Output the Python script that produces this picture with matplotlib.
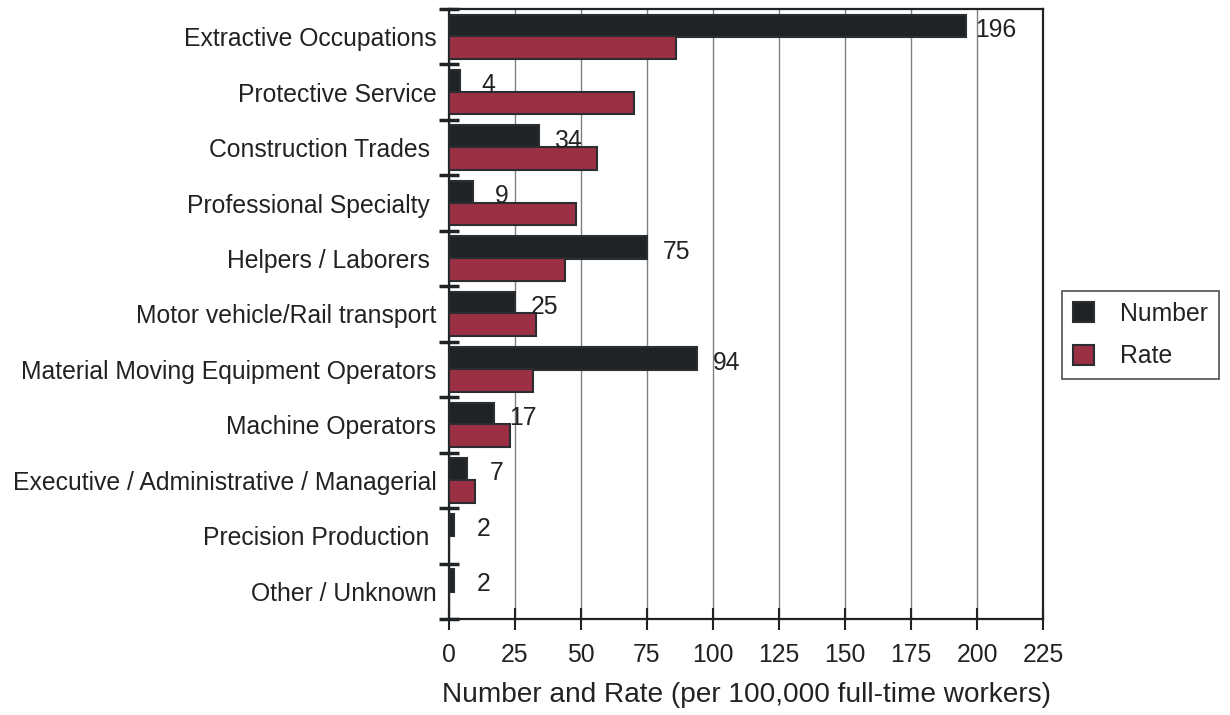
import matplotlib
matplotlib.use("Agg")
import matplotlib.pyplot as plt
import numpy as np

plt.rcParams['font.family'] = ['Liberation Sans', 'DejaVu Sans']

# occupations, top to bottom
categories = [
    "Extractive Occupations",
    "Protective Service",
    "Construction Trades ",
    "Professional Specialty ",
    "Helpers / Laborers ",
    "Motor vehicle/Rail transport",
    "Material Moving Equipment Operators",
    "Machine Operators",
    "Executive / Administrative / Managerial",
    "Precision Production ",
    "Other / Unknown",
]
number = [196, 4, 34, 9, 75, 25, 94, 17, 7, 2, 2]
rate = [86, 70, 56, 48, 44, 33, 32, 23, 10, 0, 0]
xticks = [0, 25, 50, 75, 100, 125, 150, 175, 200, 225]

num_color = '#1f2326'
rate_color = '#9b3045'
edge = '#2a2e31'
text_color = '#222222'
fs = 17.8

fig = plt.figure(figsize=(12.3, 7.15), dpi=100)
ax = fig.add_axes([449 / 1230, 1 - 619 / 715, (1043 - 449) / 1230, (619 - 9) / 715])

y = np.arange(len(categories))
h = 0.41
ax.barh(y - 0.195, number, height=h, color=num_color, edgecolor=edge, linewidth=1.5,
        label='Number', zorder=3)
ax.barh(y + 0.195, rate, height=h, color=rate_color, edgecolor=edge, linewidth=1.5,
        label='Rate', zorder=3)

# value labels next to the Number bars
for yi, v in zip(y, number):
    ax.annotate(str(v), (v, yi - 0.195), xytext=(21, -1), textcoords='offset points',
                ha='center', va='center_baseline', fontsize=fs, color=text_color)

ax.set_xlim(0, 225)
ax.set_ylim(len(categories) - 0.5, -0.5)
ax.set_xticks(xticks)
ax.set_xticklabels([str(t) for t in xticks])
ax.set_yticks(y)
ax.set_yticklabels(categories)
ax.set_yticks(np.arange(-0.5, len(categories), 1), minor=True)

ax.tick_params(axis='y', which='major', length=0, pad=9, labelsize=fs, labelcolor=text_color)
ax.tick_params(axis='y', which='minor', direction='inout', length=15, width=2.5, color='#1f2326')
ax.tick_params(axis='x', which='major', direction='inout', length=16, width=1.5, pad=9,
               labelsize=fs, labelcolor=text_color, color='#1f2326')

ax.grid(axis='x', color='#808080', linewidth=1.0, zorder=0)
ax.set_axisbelow(True)
for s in ax.spines.values():
    s.set_color('#1f2326')
    s.set_linewidth(1.6)

ax.set_xlabel("Number and Rate (per 100,000 full-time workers)", fontsize=20.2,
              color=text_color, labelpad=11)

leg = fig.legend(loc='center left', bbox_to_anchor=(1062 / 1230, 1 - 335 / 715),
                 borderaxespad=0, fontsize=fs, frameon=True, fancybox=False,
                 handlelength=0.85, handleheight=0.85, handletextpad=1.05,
                 borderpad=0.45, labelspacing=0.75)
leg.get_frame().set_edgecolor('#1f2326')
leg.get_frame().set_linewidth(1.2)
for t in leg.get_texts():
    t.set_color(text_color)

fig.savefig("out.png", dpi=100)
